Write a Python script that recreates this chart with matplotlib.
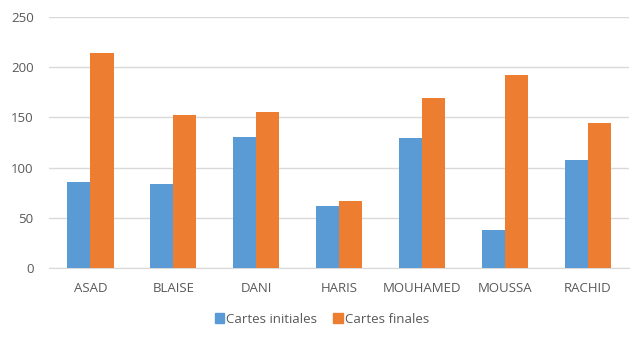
import numpy as np
import matplotlib
matplotlib.use("Agg")
import matplotlib.pyplot as plt
import matplotlib.patches as mpatches

# data
names = ["ASAD", "BLAISE", "DANI", "HARIS", "MOUHAMED", "MOUSSA", "RACHID"]
cartes_initiales = [86, 84, 130, 62, 129, 38, 108]
cartes_finales = [214, 152, 155, 67, 169, 192, 144]
y_ticks = [0, 50, 100, 150, 200, 250]

blue = "#5B9BD5"
orange = "#ED7D31"
text_col = "#595959"
grid_col = "#D9D9D9"

plt.rcParams['font.family'] = ['Open Sans', 'DejaVu Sans']

fig = plt.figure(figsize=(6.44, 3.37), dpi=100)
ax = fig.add_axes([0.076, 0.2047, 0.901, 0.745])

x = np.arange(len(names))
w = 0.28
ax.bar(x - w / 2, cartes_initiales, w, color=blue, zorder=3)
ax.bar(x + w / 2, cartes_finales, w, color=orange, zorder=3)

ax.set_xlim(-0.5, len(names) - 0.5)
ax.set_ylim(0, 250)
ax.set_yticks(y_ticks)
ax.set_xticks(x)
ax.set_xticklabels(names)
ax.yaxis.grid(True, color=grid_col, linewidth=1, zorder=0)
ax.set_axisbelow(True)

for s in ["top", "right", "left"]:
    ax.spines[s].set_visible(False)
ax.spines["bottom"].set_color(grid_col)
ax.tick_params(axis="both", length=0, labelsize=9.5, labelcolor=text_col)
ax.tick_params(axis="x", pad=10)
ax.tick_params(axis="y", pad=11)

handles = [mpatches.Patch(color=blue, label="Cartes initiales"),
           mpatches.Patch(color=orange, label="Cartes finales")]
leg = fig.legend(handles=handles, loc="center", bbox_to_anchor=(0.5, 0.053),
                 ncol=2, frameon=False, fontsize=9.5, handlelength=0.7,
                 handleheight=0.7, handletextpad=0.2, columnspacing=1.2)
for t in leg.get_texts():
    t.set_color(text_col)

fig.savefig("out.png", dpi=100)
